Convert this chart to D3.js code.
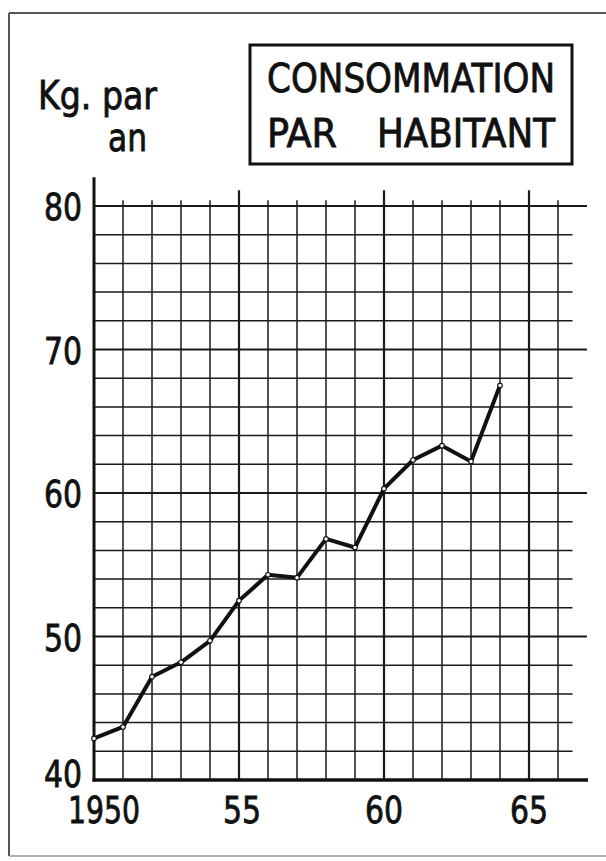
<!DOCTYPE html>
<html>
<head>
<meta charset="utf-8">
<script src="https://cdn.jsdelivr.net/npm/d3@7"></script>
<style>
  html, body { margin: 0; padding: 0; background: #fff; }
  svg { display: block; }
  text { font-family: "DejaVu Sans Condensed", "DejaVu Sans", sans-serif; fill: #111; stroke: #111; stroke-width: 0.8px; }
</style>
</head>
<body>
<script>
// consumption per inhabitant, kg per year
var years = [1950, 1951, 1952, 1953, 1954, 1955, 1956, 1957, 1958, 1959, 1960, 1961, 1962, 1963, 1964];
var kgPerCapita = [42.9, 43.7, 47.2, 48.2, 49.7, 52.5, 54.3, 54.1, 56.8, 56.2, 60.3, 62.3, 63.3, 62.2, 67.5];

var yTicks = [40, 50, 60, 70, 80];
var xTicks = [1950, 1955, 1960, 1965];
var xTickLabels = ["1950", "55", "60", "65"];
var unitLines = ["Kg. par", "an"];
var titleLines = ["CONSOMMATION", "PAR HABITANT"];

var width = 606, height = 861;

var svg = d3.select("body").append("svg")
  .attr("width", width)
  .attr("height", height);

var x = d3.scaleLinear().domain([1950, 1965]).range([94, 529]);
var y = d3.scaleLinear().domain([40, 80]).range([780, 206]);

// outer frame of the plate
var frame = svg.append("g").attr("fill", "none").attr("stroke", "#555");
frame.append("line").attr("x1", 9).attr("x2", width).attr("y1", 13).attr("y2", 13).attr("stroke-width", 2);
frame.append("line").attr("x1", 9).attr("x2", 9).attr("y1", 13).attr("y2", 856).attr("stroke-width", 2);
frame.append("line").attr("x1", 9).attr("x2", width).attr("y1", 856).attr("y2", 856)
  .attr("stroke-width", 1.5).attr("stroke", "#999");

// grid
var grid = svg.append("g").attr("stroke", "#1a1a1a").attr("fill", "none");

grid.selectAll("line.h")
  .data(d3.range(42, 81, 2))
  .enter().append("line")
  .attr("class", "h")
  .attr("x1", x(1950))
  .attr("x2", function(d) { return d % 10 === 0 ? x(1967) : x(1966.5); })
  .attr("y1", function(d) { return y(d); })
  .attr("y2", function(d) { return y(d); })
  .attr("stroke-width", function(d) { return d % 10 === 0 ? 2 : 1.5; });

grid.selectAll("line.v")
  .data(d3.range(1951, 1967))
  .enter().append("line")
  .attr("class", "v")
  .attr("x1", function(d) { return x(d); })
  .attr("x2", function(d) { return x(d); })
  .attr("y1", y(40))
  .attr("y2", function(d) { return d % 5 === 0 ? y(81.1) : y(80.4); })
  .attr("stroke-width", function(d) { return d % 5 === 0 ? 2.2 : 1.5; });

// axes
svg.append("line")
  .attr("x1", x(1950)).attr("x2", x(1950))
  .attr("y1", y(40) + 1.5).attr("y2", y(82))
  .attr("stroke", "#111").attr("stroke-width", 3);
svg.append("line")
  .attr("x1", x(1950) - 1.5).attr("x2", x(1967) + 1)
  .attr("y1", y(40)).attr("y2", y(40))
  .attr("stroke", "#111").attr("stroke-width", 3.5);

// tick labels
svg.selectAll("text.ylab")
  .data(yTicks)
  .enter().append("text")
  .attr("class", "ylab")
  .attr("x", 82)
  .attr("y", function(d) { return d === 40 ? y(d) + 7 : y(d) + 14; })
  .attr("text-anchor", "end")
  .attr("font-size", 38)
  .attr("textLength", 38)
  .attr("lengthAdjust", "spacingAndGlyphs")
  .text(function(d) { return d; });

svg.selectAll("text.xlab")
  .data(xTicks)
  .enter().append("text")
  .attr("class", "xlab")
  .attr("x", function(d, i) { return i === 0 ? x(d) + 10 : x(d) + (d === 1955 ? 3 : 0); })
  .attr("y", 823)
  .attr("text-anchor", "middle")
  .attr("font-size", 38)
  .attr("textLength", function(d, i) { return xTickLabels[i].length === 4 ? 72 : 38; })
  .attr("lengthAdjust", "spacingAndGlyphs")
  .text(function(d, i) { return xTickLabels[i]; });

// unit label
svg.append("text")
  .attr("x", 38).attr("y", 109)
  .attr("font-size", 39)
  .attr("textLength", 119).attr("lengthAdjust", "spacingAndGlyphs")
  .text(unitLines[0]);
svg.append("text")
  .attr("x", 108).attr("y", 151)
  .attr("font-size", 39)
  .attr("textLength", 39).attr("lengthAdjust", "spacingAndGlyphs")
  .text(unitLines[1]);

// title box
svg.append("rect")
  .attr("x", 250).attr("y", 45)
  .attr("width", 322).attr("height", 119)
  .attr("fill", "none").attr("stroke", "#111").attr("stroke-width", 3);
svg.append("text")
  .attr("x", 267).attr("y", 92)
  .attr("font-size", 39)
  .attr("textLength", 288).attr("lengthAdjust", "spacingAndGlyphs")
  .text(titleLines[0]);
var words = titleLines[1].split(" ");
svg.append("text")
  .attr("x", 267).attr("y", 147)
  .attr("font-size", 39)
  .attr("textLength", 70).attr("lengthAdjust", "spacingAndGlyphs")
  .text(words[0]);
svg.append("text")
  .attr("x", 555).attr("y", 147)
  .attr("text-anchor", "end")
  .attr("font-size", 39)
  .attr("textLength", 178).attr("lengthAdjust", "spacingAndGlyphs")
  .text(words[1]);

// data line
var data = years.map(function(yr, i) { return { year: yr, value: kgPerCapita[i] }; });

var line = d3.line()
  .x(function(d) { return x(d.year); })
  .y(function(d) { return y(d.value); });

svg.append("path")
  .datum(data)
  .attr("d", line)
  .attr("fill", "none")
  .attr("stroke", "#111")
  .attr("stroke-width", 4)
  .attr("stroke-linejoin", "round");

svg.selectAll("circle.pt")
  .data(data)
  .enter().append("circle")
  .attr("class", "pt")
  .attr("cx", function(d) { return x(d.year); })
  .attr("cy", function(d) { return y(d.value); })
  .attr("r", 2.3)
  .attr("fill", "#fff")
  .attr("stroke", "#111")
  .attr("stroke-width", 1.1);
</script>
</body>
</html>
